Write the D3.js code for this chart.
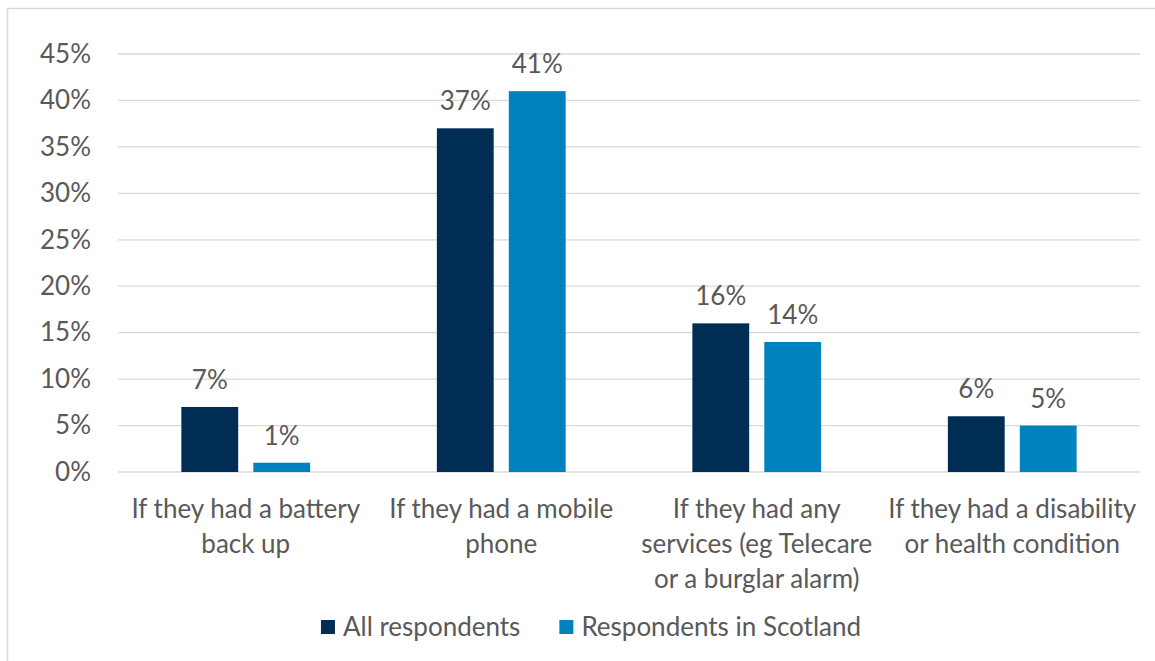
<!DOCTYPE html>
<html>
<head>
<meta charset="utf-8">
<script src="https://cdn.jsdelivr.net/npm/d3@7"></script>
<style>
  html, body { margin: 0; padding: 0; background: #ffffff; }
  svg { display: block; }
  text { font-family: Lato, "Open Sans", sans-serif; fill: #595959; }
</style>
</head>
<body>
<svg id="chart" width="1155" height="661"></svg>
<script>
// Reasons respondents gave, split across lines as in the axis labels
const categories = ["battery", "mobile", "services", "disability"];
const categoryLines = [
  ["If they had a battery", "back up"],
  ["If they had a mobile", "phone"],
  ["If they had any", "services (eg Telecare", "or a burglar alarm)"],
  ["If they had a disability", "or health condition"]
];
const seriesNames = ["All respondents", "Respondents in Scotland"];
const allRespondents = [7, 37, 16, 6];
const scotlandRespondents = [1, 41, 14, 5];
const yTicks = [0, 5, 10, 15, 20, 25, 30, 35, 40, 45];
const seriesColors = ["#002d54", "#0082be"];

const W = 1155, H = 661;
const plot = { left: 118, right: 1140, top: 54, bottom: 472 };
const fontSize = 26;

const svg = d3.select("#chart");

// Chart frame (top and left edges)
svg.append("path")
  .attr("d", `M7.5,${H} V8.5 H${W}`)
  .attr("fill", "none")
  .attr("stroke", "#d9d9d9")
  .attr("stroke-width", 1.5);

const y = d3.scaleLinear().domain([0, 45]).range([plot.bottom, plot.top]);
const x = d3.scaleBand().domain(categories).range([plot.left, plot.right]);
const bw = x.bandwidth();
const xs = d3.scaleBand().domain(seriesNames)
  .range([bw * 0.248, bw * 0.752]).paddingInner(0.21);

// Horizontal gridlines
svg.append("g")
  .selectAll("line")
  .data(yTicks)
  .join("line")
  .attr("x1", plot.left).attr("x2", plot.right)
  .attr("y1", d => y(d)).attr("y2", d => y(d))
  .attr("stroke", "#d9d9d9")
  .attr("stroke-width", 1.3);

// Y axis labels
const yAxis = d3.axisLeft(y).tickValues(yTicks).tickFormat(d => d + "%").tickSize(0).tickPadding(27);
const yg = svg.append("g").attr("transform", `translate(${plot.left},0)`).call(yAxis);
yg.select(".domain").remove();
yg.selectAll("text")
  .attr("font-size", fontSize)
  .attr("fill", "#595959")
  .style("font-family", "Lato, sans-serif");

// Bars
const rows = categories.map((c, i) => ({
  cat: c,
  values: [
    { name: seriesNames[0], v: allRespondents[i], color: seriesColors[0] },
    { name: seriesNames[1], v: scotlandRespondents[i], color: seriesColors[1] }
  ]
}));

const groups = svg.append("g")
  .selectAll("g")
  .data(rows)
  .join("g")
  .attr("transform", d => `translate(${x(d.cat)},0)`);

groups.selectAll("rect")
  .data(d => d.values)
  .join("rect")
  .attr("x", d => xs(d.name))
  .attr("width", xs.bandwidth())
  .attr("y", d => y(d.v))
  .attr("height", d => y(0) - y(d.v))
  .attr("fill", d => d.color);

// Value labels
groups.selectAll("text.val")
  .data(d => d.values)
  .join("text")
  .attr("class", "val")
  .attr("x", d => xs(d.name) + xs.bandwidth() / 2)
  .attr("y", d => y(d.v) - 18)
  .attr("text-anchor", "middle")
  .attr("font-size", fontSize)
  .text(d => d.v + "%");

// Category labels
const catG = svg.append("g")
  .selectAll("text")
  .data(categories)
  .join("text")
  .attr("text-anchor", "middle")
  .attr("font-size", fontSize)
  .attr("x", d => x(d) + bw / 2)
  .attr("y", 518);
catG.selectAll("tspan")
  .data((d, i) => categoryLines[i])
  .join("tspan")
  .attr("x", function () { return this.parentNode.getAttribute("x"); })
  .attr("dy", (d, i) => i === 0 ? 0 : 35)
  .text(d => d);

// Legend
const legend = svg.append("g");
const items = legend.selectAll("g")
  .data(seriesNames)
  .join("g");
items.append("rect")
  .attr("width", 14).attr("height", 14)
  .attr("y", 620)
  .attr("fill", (d, i) => seriesColors[i]);
items.append("text")
  .attr("x", 22)
  .attr("y", 636)
  .attr("font-size", fontSize)
  .text(d => d);
// Lay out legend entries side by side, centred under the chart
let offset = 0;
const widths = [];
items.each(function () {
  widths.push(22 + this.querySelector("text").getComputedTextLength());
});
const gap = 39;
const total = d3.sum(widths) + gap * (widths.length - 1);
const start = 591 - total / 2;
items.attr("transform", (d, i) => {
  const tx = start + offset;
  offset += widths[i] + gap;
  return `translate(${tx},0)`;
});
</script>
</body>
</html>
